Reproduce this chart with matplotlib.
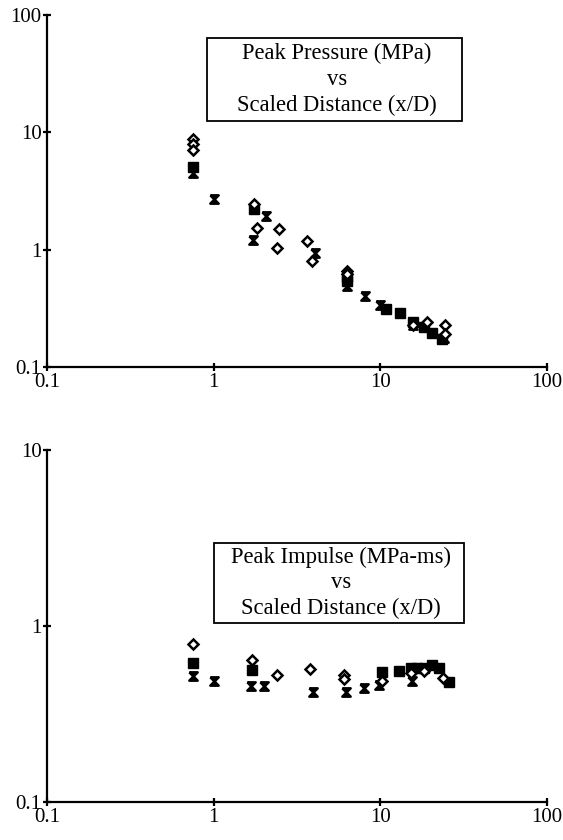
import numpy as np
import matplotlib.pyplot as plt
from matplotlib.path import Path
from matplotlib.patches import Rectangle

plt.rcParams['font.family'] = ['Liberation Serif', 'DejaVu Serif']

# ---- top panel: peak pressure (MPa) ----
p_dia_x = [0.75, 0.75, 0.75, 1.75, 1.81, 2.47, 2.41, 3.65, 3.87, 6.3, 6.3, 15.6, 19.1, 24.3, 24.6]
p_dia_y = [8.8, 7.9, 7.1, 2.45, 1.52, 1.49, 1.04, 1.19, 0.80, 0.66, 0.62, 0.23, 0.24, 0.23, 0.19]
p_sq_x = [0.75, 1.75, 6.3, 6.3, 10.8, 13.1, 15.8, 18.3, 20.5, 23.5]
p_sq_y = [5.1, 2.2, 0.58, 0.54, 0.31, 0.29, 0.24, 0.22, 0.193, 0.172]
p_x_x = [0.75, 1.0, 2.05, 1.73, 4.03, 6.3, 8.05, 10.0, 15.8, 24.0]
p_x_y = [4.5, 2.7, 1.93, 1.21, 0.93, 0.49, 0.40, 0.335, 0.23, 0.175]

# ---- bottom panel: peak impulse (MPa-ms) ----
i_dia_x = [0.75, 1.69, 2.41, 3.78, 6.05, 6.05, 10.3, 15.3, 18.3, 23.9]
i_dia_y = [0.79, 0.64, 0.527, 0.57, 0.527, 0.50, 0.49, 0.543, 0.555, 0.508]
i_sq_x = [0.75, 1.69, 10.3, 12.9, 15.2, 16.5, 18.3, 20.5, 22.5, 25.8]
i_sq_y = [0.62, 0.56, 0.55, 0.557, 0.575, 0.575, 0.577, 0.60, 0.575, 0.48]
i_x_x = [0.75, 1.0, 1.67, 2.0, 3.96, 6.2, 7.98, 9.8, 15.5]
i_x_y = [0.52, 0.49, 0.456, 0.456, 0.42, 0.42, 0.443, 0.46, 0.49]

xticks = [0.1, 1, 10, 100]
xlabels = ['0.1', '1', '10', '100']

# hourglass style cross marker
xmark = Path([(-1, 1), (1, 1), (-1, -1), (1, -1), (-1, 1)],
             [Path.MOVETO, Path.LINETO, Path.LINETO, Path.LINETO, Path.LINETO])

W, H = 563, 840
fig = plt.figure(figsize=(W / 100, H / 100), dpi=100)
ax1 = fig.add_axes([47 / W, 1 - 367 / H, 500 / W, 352 / H])
ax2 = fig.add_axes([47 / W, 1 - 802 / H, 500 / W, 352 / H])


def style(ax, ylim, yticks, ylabels):
    ax.set_xscale('log')
    ax.set_yscale('log')
    ax.set_xlim(0.1, 100)
    ax.set_ylim(*ylim)
    ax.set_xticks(xticks)
    ax.set_xticklabels(xlabels)
    ax.set_yticks(yticks)
    ax.set_yticklabels(ylabels)
    ax.minorticks_off()
    ax.spines['top'].set_visible(False)
    ax.spines['right'].set_visible(False)
    for s in ('left', 'bottom'):
        ax.spines[s].set_linewidth(1.6)
    ax.tick_params(direction='inout', length=6, width=1.6, labelsize=15, pad=1)


def draw(ax, dx, dy, sx, sy, cx, cy):
    ax.plot(sx, sy, 's', ms=6.5, color='black', ls='none')
    ax.plot(cx, cy, marker=xmark, ms=6, color='black', mew=1.8, ls='none')
    ax.plot(dx, dy, 'D', ms=5.5, mfc='white', mec='black', mew=1.8, ls='none')


def label_box(x0, y0, x1, y1, txt):
    # box given in pixel coords from top-left
    fig.patches.append(Rectangle((x0 / W, 1 - y1 / H), (x1 - x0) / W, (y1 - y0) / H,
                                 transform=fig.transFigure, fc='white', ec='black',
                                 lw=1.3, zorder=5))
    fig.text((x0 + x1) / 2 / W + 0.004, 1 - (y0 + y1) / 2 / H, txt, ha='center', va='center',
             fontsize=16.3, linespacing=1.3, zorder=6)


draw(ax1, p_dia_x, p_dia_y, p_sq_x, p_sq_y, p_x_x, p_x_y)
style(ax1, (0.1, 100), [0.1, 1, 10, 100], ['0.1', '1', '10', '100'])
label_box(207, 38, 462, 121, 'Peak Pressure (MPa)\nvs\nScaled Distance (x/D)')

draw(ax2, i_dia_x, i_dia_y, i_sq_x, i_sq_y, i_x_x, i_x_y)
style(ax2, (0.1, 10), [0.1, 1, 10], ['0.1', '1', '10'])
label_box(214, 543, 464, 623, 'Peak Impulse (MPa-ms)\nvs\nScaled Distance (x/D)')

fig.savefig('out.png', dpi=100)
